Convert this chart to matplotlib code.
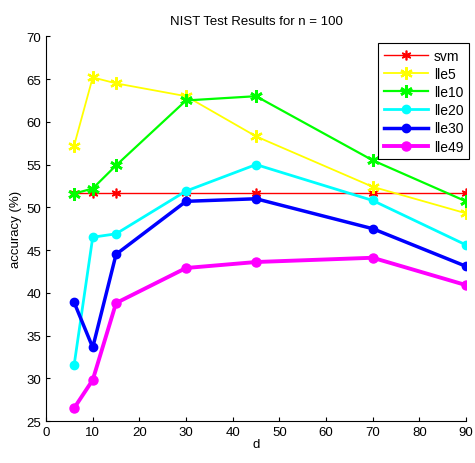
import numpy as np
import matplotlib
matplotlib.use('Agg')
from matplotlib import pyplot as plt

plt.rcParams['font.family'] = ['Liberation Sans', 'DejaVu Sans']

# values
d = [6, 10, 15, 30, 45, 70, 90]
svm = [51.7, 51.7, 51.7, 51.7, 51.7, 51.7, 51.7]
lle5 = [57.2, 65.2, 64.5, 63.0, 58.3, 52.4, 49.3]
lle10 = [51.6, 52.2, 54.9, 62.5, 63.0, 55.5, 50.7]
lle20 = [31.5, 46.5, 46.9, 51.9, 55.0, 50.8, 45.6]
lle30 = [38.9, 33.6, 44.5, 50.7, 51.0, 47.5, 43.1]
lle49 = [26.5, 29.8, 38.8, 42.9, 43.6, 44.1, 40.9]
names = ['svm', 'lle5', 'lle10', 'lle20', 'lle30', 'lle49']

fig = plt.figure(figsize=(4.75, 4.64), dpi=100)
ax = fig.add_axes([0.097, 0.0905, 0.884, 0.829])

series = [svm, lle5, lle10, lle20, lle30, lle49]
colors = ['#ff0000', '#ffff00', '#00ff00', '#00ffff', '#0000ff', '#ff00ff']
widths = [1.0, 1.3, 1.6, 2.0, 2.5, 2.8]
aster = (6, 2, 0)
markers = [aster, aster, aster, 'o', 'o', 'o']
msizes = [7, 9, 9, 6, 6, 6.5]
mews = [1.2, 1.6, 1.9, 1, 1, 1]
for s, c, w, m, ms, mw, n in zip(series, colors, widths, markers, msizes, mews, names):
    ax.plot(d, s, color=c, lw=w, marker=m, ms=ms, mew=mw, mec=c, mfc=c, label=n)

ax.set_xlim(0, 90)
ax.set_ylim(25, 70)
ax.set_xticks(np.arange(0, 91, 10))
ax.set_yticks(np.arange(25, 71, 5))
ax.tick_params(direction='in', labelsize=9.5, length=3)
for sp in ['top', 'right']:
    ax.spines[sp].set_visible(False)
ax.set_xlabel('d', fontsize=9.5, labelpad=0)
ax.set_ylabel('accuracy (%)', fontsize=9.5, labelpad=3)
ax.set_title('NIST Test Results for n = 100', fontsize=9.5, pad=9)

leg = ax.legend(loc='upper right', bbox_to_anchor=(1.017, 0.993), fontsize=10,
                fancybox=False, edgecolor='black', framealpha=1,
                handlelength=3.2, borderaxespad=0.3, labelspacing=0.3,
                handletextpad=0.4)
leg.get_frame().set_linewidth(0.8)

plt.savefig('out.png', dpi=100)
